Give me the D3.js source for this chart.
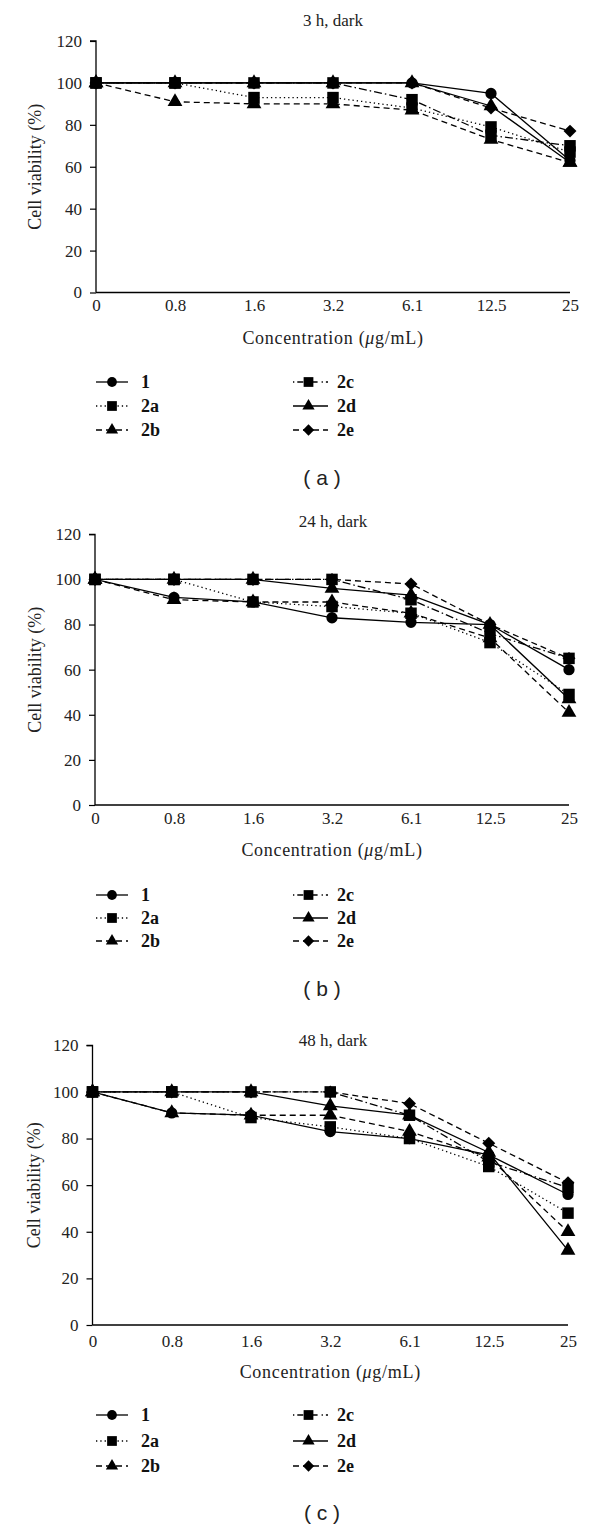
<!DOCTYPE html>
<html><head><meta charset="utf-8">
<script src="https://cdn.jsdelivr.net/npm/d3@7"></script>
<style>html,body{margin:0;padding:0;background:#fff;} svg{display:block;}</style>
</head><body>
<svg id="chart" width="600" height="1526"></svg>
<script>
// ---------- DATA ----------
const concentrations = ["0", "0.8", "1.6", "3.2", "6.1", "12.5", "25"];
const seriesNames = ["1", "2a", "2b", "2c", "2d", "2e"];
const yTicks = [0, 20, 40, 60, 80, 100, 120];
const panelTitles = ["3 h, dark", "24 h, dark", "48 h, dark"];
const panelLetters = ["a", "b", "c"];
// rows follow seriesNames order: 1, 2a, 2b, 2c, 2d, 2e
const dark3h = [
  [100, 100, 100, 100, 100, 95, 63],
  [100, 100, 93, 93, 88, 79, 67],
  [100, 91, 90, 90, 87, 73, 62],
  [100, 100, 100, 100, 92, 75, 70],
  [100, 100, 100, 100, 100, 89, 62],
  [100, 100, 100, 100, 100, 88, 77]
];
const dark24h = [
  [100, 92, 90, 83, 81, 80, 60],
  [100, 100, 90, 88, 85, 72, 49],
  [100, 91, 90, 90, 85, 74, 41],
  [100, 100, 100, 100, 91, 76, 65],
  [100, 100, 100, 96, 93, 80, 47],
  [100, 100, 100, 100, 98, 80, 65]
];
const dark48h = [
  [100, 91, 90, 83, 80, 73, 56],
  [100, 100, 89, 85, 80, 68, 48],
  [100, 91, 90, 90, 83, 72, 40],
  [100, 100, 100, 100, 90, 70, 59],
  [100, 100, 100, 94, 90, 74, 32],
  [100, 100, 100, 100, 95, 78, 61]
];
const panelData = [dark3h, dark24h, dark48h];

// ---------- STYLE / LAYOUT ----------
const dashes = [null, "1.3,3", "6,4", "8,3,1.5,3", null, "6,4"];
const legendDashes = [null, "1.3,3", "6,4", "1.3,3,6,4", null, "6,4"];
const diamondType = { draw(ctx, size) { const r = Math.sqrt(size / 2); ctx.moveTo(0, -r); ctx.lineTo(r, 0); ctx.lineTo(0, r); ctx.lineTo(-r, 0); ctx.closePath(); } };
const markerTypes = [d3.symbolCircle, d3.symbolSquare, d3.symbolTriangle, d3.symbolSquare, d3.symbolTriangle, diamondType];
const markerSizes = [100, 132, 95, 132, 95, 84];
const legendSizes = [75, 95, 65, 95, 65, 64];

const layouts = [
  { xL: 96, xR: 570, yT: 41, yB: 292.5, title: 25.5, ticks: 311, xTitle: 344, legend: [382, 406, 430], cap: 485 },
  { xL: 95, xR: 569, yT: 534.3, yB: 805, title: 526.5, ticks: 824, xTitle: 856, legend: [895, 918, 941], cap: 996 },
  { xL: 92.5, xR: 568, yT: 1045.3, yB: 1325, title: 1045.5, ticks: 1347, xTitle: 1378, legend: [1415, 1441, 1466], cap: 1520 }
];

const svg = d3.select("#chart");
const serif = "'Liberation Serif', 'Times New Roman', serif";

layouts.forEach((L, pi) => {
  const g = svg.append("g");
  const x = d3.scalePoint().domain(concentrations).range([L.xL, L.xR]).padding(0);
  const y = d3.scaleLinear().domain([0, 120]).range([L.yB, L.yT]);

  // y axis
  const yAxis = d3.axisLeft(y).tickValues(yTicks).tickSize(6).tickPadding(8);
  const ya = g.append("g").attr("transform", `translate(${L.xL},0)`).call(yAxis);
  ya.select(".domain").attr("stroke", "#000").attr("stroke-width", 1.3).attr("d", `M-6,${L.yT}H0V${L.yB}`);
  ya.selectAll(".tick line").attr("stroke", "#000").attr("stroke-width", 1.2);
  ya.selectAll(".tick text").attr("font-family", serif).attr("font-size", 17).attr("fill", "#222");

  // x axis
  const xAxis = d3.axisBottom(x).tickSize(0).tickPadding(0);
  const xa = g.append("g").attr("transform", `translate(0,${L.yB})`).call(xAxis);
  xa.select(".domain").attr("stroke", "#000").attr("stroke-width", 1.3).attr("d", `M${L.xL},0H${L.xR}`);
  xa.selectAll(".tick text").attr("font-family", serif).attr("font-size", 17).attr("fill", "#222")
    .attr("dy", null).attr("y", L.ticks - L.yB);

  // axis titles
  g.append("text").attr("transform", `translate(${pi === 2 ? 40 : 41},${(L.yT + L.yB) / 2}) rotate(-90)`)
    .attr("text-anchor", "middle").attr("font-family", serif).attr("font-size", 18).attr("fill", "#222")
    .text("Cell viability (%)");
  const xt = g.append("text").attr("x", (L.xL + L.xR) / 2).attr("y", L.xTitle)
    .attr("text-anchor", "middle").attr("font-family", serif).attr("font-size", 18)
    .attr("letter-spacing", 0.7).attr("fill", "#222");
  xt.append("tspan").text("Concentration (");
  xt.append("tspan").attr("font-style", "italic").text("\u03bc");
  xt.append("tspan").text("g/mL)");

  // title
  g.append("text").attr("x", 333).attr("y", L.title).attr("text-anchor", "middle")
    .attr("font-family", serif).attr("font-size", 17).attr("fill", "#222").text(panelTitles[pi]);

  // lines
  const line = d3.line().x((d, i) => x(concentrations[i])).y(d => y(d));
  const data = panelData[pi];
  data.forEach((vals, si) => {
    g.append("path").attr("d", line(vals)).attr("fill", "none").attr("stroke", "#000")
      .attr("stroke-width", 1.3).attr("stroke-dasharray", dashes[si]);
  });
  // markers
  data.forEach((vals, si) => {
    const sym = d3.symbol().type(markerTypes[si]).size(markerSizes[si]);
    g.selectAll(null).data(vals).enter().append("path")
      .attr("d", sym).attr("fill", "#000")
      .attr("transform", (d, i) => `translate(${x(concentrations[i])},${y(d)})`);
  });

  // legend
  seriesNames.forEach((name, si) => {
    const col = si < 3 ? 0 : 1;
    const row = si % 3;
    const cy = L.legend[row];
    const x0 = col === 0 ? 96 : 293, x1 = col === 0 ? 128 : 328;
    const cx = (x0 + x1) / 2 + (col === 1 ? -2 : 0);
    g.append("line").attr("x1", x0).attr("x2", x1).attr("y1", cy).attr("y2", cy)
      .attr("stroke", "#000").attr("stroke-width", 1.3).attr("stroke-dasharray", legendDashes[si]);
    g.append("path").attr("d", d3.symbol().type(markerTypes[si]).size(legendSizes[si]))
      .attr("transform", `translate(${cx},${cy})`).attr("fill", "#000");
    g.append("text").attr("x", col === 0 ? 141 : 337).attr("y", cy + 6)
      .attr("font-family", serif).attr("font-weight", "bold").attr("font-size", 18).attr("fill", "#111")
      .text(name);
  });

  // caption
  g.append("text").attr("x", 322).attr("y", L.cap).attr("text-anchor", "middle")
    .attr("font-family", "'Liberation Sans', Arial, sans-serif").attr("font-size", 21).attr("fill", "#222")
    .text(`( ${panelLetters[pi]} )`);
});
</script>
</body></html>
